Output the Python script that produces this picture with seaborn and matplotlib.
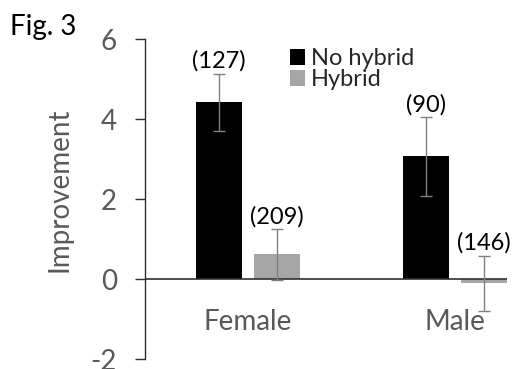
import pandas as pd
import matplotlib
matplotlib.use("Agg")
import matplotlib.pyplot as plt
import seaborn as sns

# data
sex = ["Female", "Female", "Male", "Male"]
hybrid = ["No hybrid", "Hybrid", "No hybrid", "Hybrid"]
improvement = [4.42, 0.62, 3.07, -0.10]
sem = [0.71, 0.63, 0.98, 0.69]
n_obs = [127, 209, 90, 146]

groups = ["Female", "Male"]
hue_levels = ["No hybrid", "Hybrid"]
yticks = [-2, 0, 2, 4, 6]

df = pd.DataFrame({"sex": sex, "hybrid": hybrid, "improvement": improvement,
                   "sem": sem, "n": n_obs})

sns.set_style("white")
plt.rcParams["font.family"] = ["Lato", "DejaVu Sans"]

GREY_TXT = "#595959"

fig = plt.figure(figsize=(5.12, 3.69), dpi=100)
ax = fig.add_axes([0.2826, 0.0263, 0.7070, 0.8672])

sns.barplot(data=df, x="sex", y="improvement", hue="hybrid",
            order=groups, hue_order=hue_levels,
            palette={"No hybrid": "black", "Hybrid": "#a6a6a6"},
            width=0.56, gap=0.2, errorbar=None, saturation=1,
            linewidth=0, ax=ax)

# error bars + sample sizes on top of each bar
for container, level in zip(ax.containers, hue_levels):
    sub = df[df["hybrid"] == level].set_index("sex").loc[groups]
    for bar, (_, row) in zip(container, sub.iterrows()):
        x = bar.get_x() + bar.get_width() / 2
        ax.errorbar(x, row["improvement"], yerr=row["sem"], fmt="none",
                    ecolor="#808080", elinewidth=1, capsize=4.5,
                    capthick=1, zorder=4)
        ax.annotate(f"({row['n']})", xy=(x, row["improvement"] + row["sem"]),
                    xytext=(0, 1.5), textcoords="offset points",
                    ha="center", va="bottom", fontsize=17, color="black")

ax.axhline(0, color="#303030", lw=1.2, zorder=3)

ax.set_xlim(-0.5, 1.25)
ax.set_ylim(-2, 6)
ax.set_yticks(yticks)
ax.set_yticklabels([str(t) for t in yticks])
ax.set_xticks([])
ax.set_xlabel("")
for i, g in enumerate(groups):
    ax.text(i, -1.28, g, ha="center", va="baseline", fontsize=20,
            color=GREY_TXT)

ax.set_ylabel("Improvement", fontsize=20, color=GREY_TXT)
ax.yaxis.set_label_coords(-0.2, 0.53)
ax.tick_params(axis="y", left=True, length=7, width=1, color="#303030",
               labelsize=20, labelcolor=GREY_TXT, pad=13)

for side in ["top", "right", "bottom"]:
    ax.spines[side].set_visible(False)
ax.spines["left"].set_color("#303030")
ax.spines["left"].set_linewidth(1)

ax.legend(loc="upper left", bbox_to_anchor=(290 / 512, 1 - 48 / 369),
          bbox_transform=fig.transFigure, frameon=False, fontsize=17,
          handlelength=0.65, handleheight=0.65, handletextpad=0.25,
          labelspacing=0.0, borderpad=0, borderaxespad=0)

fig.text(10 / 512, 1 - 27 / 369, "Fig. 3", fontsize=20, color="black",
         ha="left", va="center")

fig.savefig("out.png", dpi=100)
